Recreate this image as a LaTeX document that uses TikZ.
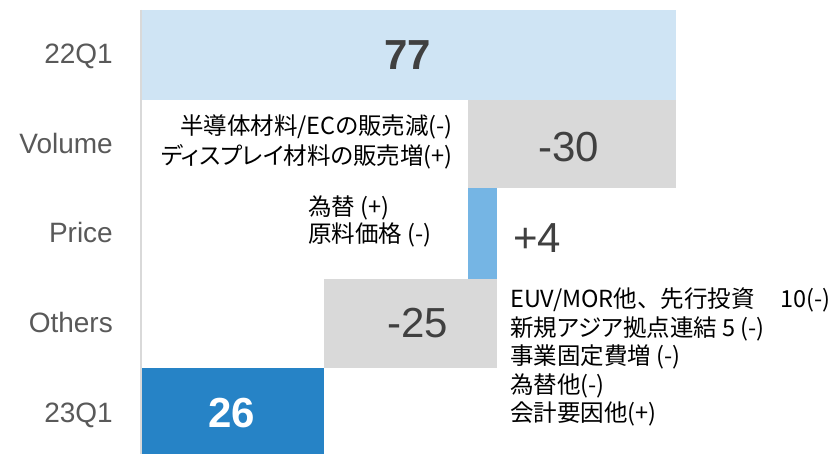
\documentclass[tikz,border=0pt]{standalone}
\usepackage{fontspec}
\setmainfont{Liberation Sans}
\newfontfamily\jp[RawFeature=+palt]{Noto Sans CJK JP}
\newfontfamily\jpf{Noto Sans CJK JP}
\definecolor{qlight}{HTML}{CFE4F4}
\definecolor{qgray}{HTML}{D9D9D9}
\definecolor{qmid}{HTML}{75B5E4}
\definecolor{qdark}{HTML}{2683C6}
\definecolor{labgray}{HTML}{595959}
\definecolor{valgray}{HTML}{404040}
\begin{document}
\begin{tikzpicture}[x=1pt,y=-1pt,
  bar/.style={draw=none,inner sep=0pt,outer sep=0pt,anchor=north west},
  cat/.style={anchor=base east,text=labgray,font=\fontsize{28}{32}\selectfont,inner sep=0pt},
  val/.style={anchor=base,text=valgray,font=\fontsize{42}{46}\selectfont,inner sep=0pt},
  note/.style={font=\jp\fontsize{23.5}{28.5}\selectfont,inner sep=0pt}]
\path[use as bounding box] (0,0) rectangle (839,454);
% axis
\coordinate (axtop) at (141,10);
\coordinate (axbot) at (141,454);
\draw[qgray,line width=2pt] (axtop) -- (axbot);
% bars
\node[bar,fill=qlight,minimum width=534pt,minimum height=90pt] (b1) at (142,10) {};
\node[bar,fill=qgray,minimum width=208pt,minimum height=88pt] (b2) at (468,100) {};
\node[bar,fill=qmid,minimum width=29pt,minimum height=91pt] (b3) at (468,188) {};
\node[bar,fill=qgray,minimum width=173pt,minimum height=89pt] (b4) at (324,279) {};
\node[bar,fill=qdark,minimum width=182pt,minimum height=86pt] (b5) at (142,368) {};
% category labels
\node[cat] (c1) at (113,64) {22Q1};
\node[cat] (c2) at (113,154) {Volume};
\node[cat] (c3) at (113,243) {Price};
\node[cat] (c4) at (113,333) {Others};
\node[cat] (c5) at (113,423) {23Q1};
% values
\node[val,font=\bfseries\fontsize{42}{46}\selectfont] (v1) at (408,70) {77};
\node[val] (v2) at (569,162) {-30};
\node[val,anchor=base west] (v3) at (513,253) {+4};
\node[val] (v4) at (418,338) {-25};
\node[val,text=white,font=\bfseries\fontsize{42}{46}\selectfont] (v5) at (232,428) {26};
% notes
\node[note,font=\jp\fontsize{23.5}{30}\selectfont,align=right,anchor=east] (n1) at (453,142)
  {半導体材料/ECの販売減(-)\\ディスプレイ材料の販売増(+)};
\node[note,font=\jp\fontsize{23.5}{27}\selectfont,align=left,anchor=west] (n2) at (308,221)
  {為替 (+)\\原料価格 (-)};
\node[note,align=left,anchor=west] (n3) at (510,357)
  {EUV/MOR他{\jpf 、}先行投資\hspace*{1.1em}10(-)\\新規アジア拠点連結 5 (-)\\事業固定費増 (-)\\為替他(-)\\会計要因他(+)};
\end{tikzpicture}
\end{document}
